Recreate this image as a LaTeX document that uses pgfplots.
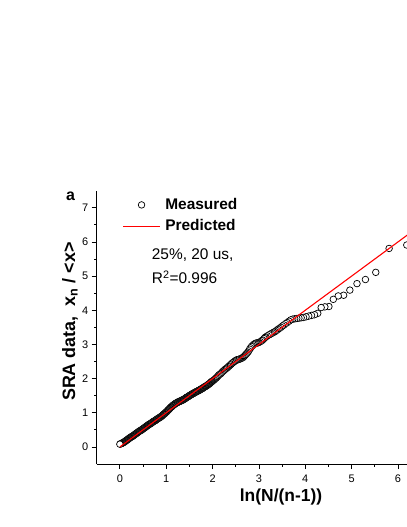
\documentclass[border=0pt]{standalone}
\usepackage{fontspec}
\setmainfont{Liberation Sans}
\usepackage{pgfplots}
\pgfplotsset{compat=1.18}
\pgfplotsset{
  markleg/.style={legend image code/.code={\draw[mark repeat=2,mark phase=2,##1] plot coordinates {(0bp,0bp) (18.5bp,0bp) (37bp,0bp)};}},
  lineleg/.style={legend image code/.code={\draw[##1] (0bp,0bp) -- (37bp,0bp);}},
}
\pgfplotstableread{
x y
6.190 5.91
5.809 5.81
5.521 5.11
5.298 4.90
5.116 4.78
4.962 4.59
4.828 4.44
4.711 4.42
4.605 4.32
4.510 4.11
4.423 4.10
4.343 4.08
4.269 3.91
4.200 3.87
4.135 3.85
4.075 3.83
4.017 3.81
3.963 3.79
3.912 3.78
3.863 3.77
3.817 3.76
3.772 3.75
3.730 3.74
3.689 3.72
3.650 3.68
3.612 3.64
3.576 3.61
3.541 3.57
3.507 3.54
3.475 3.50
3.442 3.47
3.410 3.44
3.381 3.41
3.352 3.38
3.324 3.36
3.297 3.34
3.270 3.32
3.245 3.30
3.220 3.28
3.180 3.25
3.150 3.22
3.130 3.20
3.110 3.17
3.080 3.13
3.060 3.11
3.030 3.08
3.00 3.06
2.98 3.05
2.96 3.04
2.94 3.04
2.92 3.03
2.90 3.01
2.88 2.99
2.86 2.96
2.84 2.94
2.82 2.90
2.80 2.86
2.78 2.81
2.76 2.77
2.74 2.74
2.72 2.71
2.70 2.68
2.68 2.65
2.66 2.62
2.64 2.61
2.62 2.59
2.60 2.58
2.58 2.57
2.56 2.56
2.54 2.55
2.52 2.55
2.50 2.53
2.48 2.51
2.46 2.49
2.44 2.47
2.42 2.45
2.40 2.42
2.38 2.40
2.36 2.37
2.34 2.35
2.32 2.32
2.30 2.30
2.28 2.28
2.26 2.26
2.24 2.23
2.22 2.21
2.20 2.18
2.18 2.15
2.16 2.13
2.14 2.11
2.12 2.08
2.10 2.05
2.08 2.02
2.06 2.00
2.04 1.97
2.02 1.95
2.00 1.93
1.99 1.92
1.98 1.91
1.97 1.90
1.96 1.89
1.95 1.87
1.94 1.86
1.93 1.85
1.92 1.84
1.91 1.83
1.90 1.82
1.89 1.81
1.88 1.80
1.87 1.79
1.86 1.78
1.85 1.77
1.84 1.77
1.83 1.76
1.82 1.75
1.81 1.74
1.80 1.73
1.79 1.72
1.78 1.71
1.77 1.71
1.76 1.70
1.75 1.69
1.74 1.68
1.73 1.67
1.72 1.67
1.71 1.66
1.70 1.65
1.69 1.64
1.68 1.64
1.67 1.63
1.66 1.62
1.65 1.62
1.64 1.61
1.63 1.60
1.62 1.59
1.61 1.59
1.60 1.58
1.59 1.57
1.58 1.56
1.57 1.56
1.56 1.55
1.55 1.54
1.54 1.53
1.53 1.52
1.52 1.52
1.51 1.51
1.50 1.50
1.49 1.49
1.48 1.48
1.47 1.47
1.46 1.46
1.45 1.46
1.44 1.45
1.43 1.44
1.42 1.43
1.41 1.42
1.40 1.41
1.39 1.40
1.38 1.39
1.37 1.39
1.36 1.38
1.35 1.37
1.34 1.36
1.33 1.36
1.32 1.35
1.31 1.35
1.30 1.34
1.29 1.33
1.28 1.33
1.27 1.32
1.26 1.32
1.25 1.31
1.24 1.30
1.23 1.29
1.22 1.29
1.21 1.28
1.20 1.27
1.19 1.26
1.18 1.25
1.17 1.24
1.16 1.23
1.15 1.22
1.14 1.21
1.13 1.20
1.12 1.18
1.11 1.17
1.10 1.16
1.09 1.15
1.08 1.13
1.07 1.12
1.06 1.10
1.05 1.09
1.04 1.08
1.03 1.06
1.02 1.05
1.01 1.03
1.00 1.02
0.99 1.01
0.98 1.00
0.97 0.98
0.96 0.97
0.95 0.96
0.94 0.95
0.93 0.94
0.92 0.92
0.91 0.91
0.90 0.90
0.89 0.89
0.88 0.88
0.87 0.87
0.86 0.86
0.85 0.85
0.84 0.85
0.83 0.84
0.82 0.83
0.81 0.82
0.80 0.81
0.79 0.80
0.78 0.79
0.77 0.78
0.76 0.77
0.75 0.76
0.74 0.76
0.73 0.75
0.72 0.74
0.71 0.73
0.70 0.72
0.69 0.71
0.68 0.70
0.67 0.69
0.66 0.68
0.65 0.67
0.64 0.67
0.63 0.66
0.62 0.65
0.61 0.64
0.60 0.63
0.59 0.62
0.58 0.61
0.57 0.60
0.56 0.59
0.55 0.58
0.54 0.57
0.53 0.56
0.52 0.55
0.51 0.54
0.50 0.53
0.49 0.52
0.48 0.51
0.47 0.50
0.46 0.49
0.45 0.48
0.44 0.48
0.43 0.47
0.42 0.46
0.41 0.45
0.40 0.44
0.39 0.43
0.38 0.42
0.37 0.41
0.36 0.40
0.35 0.39
0.34 0.38
0.33 0.37
0.32 0.36
0.31 0.35
0.30 0.34
0.29 0.33
0.28 0.32
0.27 0.31
0.26 0.30
0.25 0.30
0.24 0.29
0.23 0.28
0.22 0.27
0.21 0.26
0.20 0.25
0.19 0.24
0.18 0.23
0.17 0.22
0.16 0.21
0.15 0.20
0.14 0.19
0.13 0.18
0.12 0.17
0.11 0.16
0.10 0.15
0.09 0.14
0.08 0.13
0.07 0.13
0.06 0.12
0.05 0.11
0.04 0.10
0.03 0.10
0.02 0.09
0.01 0.09
0.00 0.08
}\measured
\begin{document}
\begin{tikzpicture}
\useasboundingbox (0,0) rectangle (407bp,527bp);
\begin{axis}[
  at={(96.7bp,63bp)}, anchor=south west,
  scale only axis, width=310.3bp, height=273.3bp,
  xmin=-0.5, xmax=6.195, ymin=-0.5, ymax=7.5,
  axis x line*=bottom, axis y line*=left,
  axis line style={line width=0.8bp, black},
  xtick={0,...,6}, ytick={0,...,7},
  minor tick num=1,
  tick align=outside,
  major tick length=5bp, minor tick length=2.5bp,
  tick style={line width=0.8bp, black},
  ticklabel style={font=\fontsize{11}{13}\selectfont},
  xticklabel style={yshift=-2.5bp},
  yticklabel style={xshift=0bp},
  /pgf/number format/assume math mode=true,
  clip marker paths=true,
  xlabel={ln(N/(n-1))},
  ylabel={SRA data,\ \ x\textsubscript{n}\ / <x>},
  xlabel style={font=\fontsize{17.5}{20}\selectfont\bfseries, at={(axis description cs:0.594,0)}, anchor=center, yshift=-32.7bp},
  ylabel style={font=\fontsize{18}{20}\selectfont\bfseries, at={(axis description cs:-0.086,0.521)}, anchor=center},
  legend style={at={(axis description cs:0.0825,0.972)}, anchor=north west, draw=none, fill=none, inner sep=0pt, nodes={inner sep=0pt}, row sep=8.5bp, column sep=4.7bp, font=\fontsize{15.5}{18}\selectfont\bfseries},
  legend cell align=left,
]
\addplot[only marks, mark=*, mark size=3.3bp, mark options={fill=white, draw=black, line width=0.7bp}, markleg]
  table {\measured};
\addlegendentry{Measured}
\addplot[red, line width=1.1bp, lineleg]
  coordinates {(0,0) (6.5,6.5)};
\addlegendentry{Predicted}
\end{axis}
\node[anchor=base west, font=\fontsize{16}{19}\selectfont\bfseries, inner sep=0pt] at (66bp,326.3bp) {a};
\node[anchor=base west, font=\fontsize{15.5}{18}\selectfont, inner sep=0pt] at (151.7bp,267bp) {25\%, 20 us,};
\node[anchor=base west, font=\fontsize{15.5}{18}\selectfont, inner sep=0pt] at (151.7bp,243.7bp) {R\textsuperscript{2}=0.996};
\end{tikzpicture}
\end{document}
